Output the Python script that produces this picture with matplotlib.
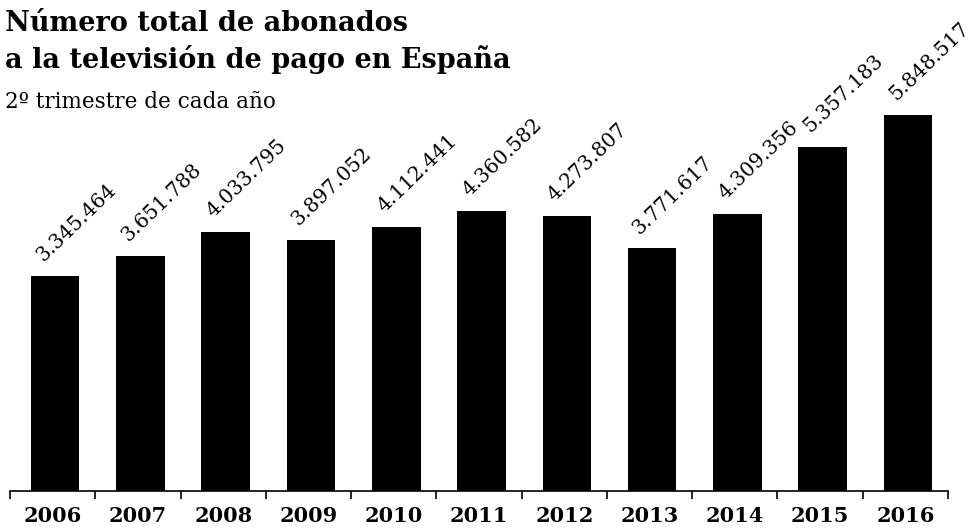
import matplotlib
matplotlib.use("Agg")
import matplotlib.pyplot as plt
import numpy as np

# abonados a TV de pago, 2º trimestre
years = ["2006", "2007", "2008", "2009", "2010", "2011",
         "2012", "2013", "2014", "2015", "2016"]
subs = [3345464, 3651788, 4033795, 3897052, 4112441, 4360582,
        4273807, 3771617, 4309356, 5357183, 5848517]
labels = ["3.345.464", "3.651.788", "4.033.795", "3.897.052", "4.112.441",
          "4.360.582", "4.273.807", "3.771.617", "4.309.356", "5.357.183",
          "5.848.517"]

W, H = 978, 529
fig = plt.figure(figsize=(W / 100, H / 100), dpi=100)
serif = "DejaVu Serif"

# axes box in pixels: x 10..948, baseline at y=491
ax = fig.add_axes([10 / W, (H - 491) / H, 938 / W, 398 / H])
x = np.arange(len(years))
ax.bar(x + 0.03, subs, width=0.57, color="black")
ax.set_xlim(-0.5, len(years) - 0.5)
ax.set_ylim(0, 6.19e6)

for xi, v, lab in zip(x, subs, labels):
    ax.annotate(lab, (xi - 0.08, v), xytext=(0, 8), textcoords="offset points",
                rotation=44, rotation_mode="anchor", ha="left", va="bottom",
                fontsize=14.5, family=serif, annotation_clip=False)

for s in ["top", "right", "left"]:
    ax.spines[s].set_visible(False)
ax.spines["bottom"].set_linewidth(1.2)
ax.set_yticks([])
ax.set_xticks(np.arange(len(years) + 1) - 0.5)
ax.set_xticklabels([])
ax.set_xticks(x, minor=True)
ax.set_xticklabels(years, minor=True, fontsize=15, fontweight="bold", family=serif)
ax.tick_params(axis="x", which="major", length=6, width=1.2)
ax.tick_params(axis="x", which="minor", length=0, pad=11)

fig.text(5 / W, 1 - 31 / H, "Número total de abonados", fontsize=19.5,
         fontweight="bold", family=serif, va="baseline")
fig.text(5 / W, 1 - 68 / H, "a la televisión de pago en España", fontsize=19.5,
         fontweight="bold", family=serif, va="baseline")
fig.text(5 / W, 1 - 108 / H, "2º trimestre de cada año", fontsize=15.5,
         family=serif, va="baseline")

fig.savefig("out.png", dpi=100)
